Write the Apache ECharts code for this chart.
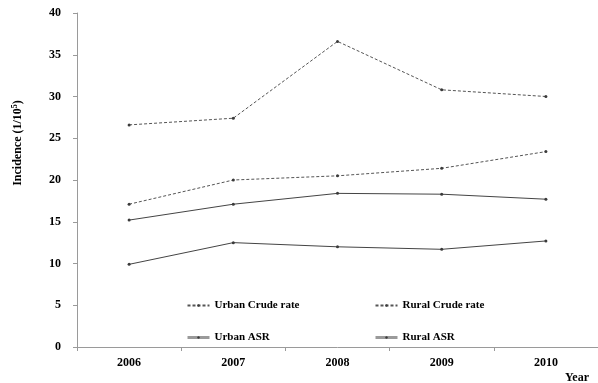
<!DOCTYPE html>
<html>
<head>
<meta charset="utf-8">
<script src="https://cdn.jsdelivr.net/npm/echarts@6/dist/echarts.min.js"></script>
<style>html,body{margin:0;padding:0;background:#fff;}#c{width:598px;height:383px;}</style>
</head>
<body>
<div id="c"></div>
<script>
const years = ['2006', '2007', '2008', '2009', '2010'];
const urbanCrude = [26.6, 27.4, 36.6, 30.8, 30.0];
const ruralCrude = [17.1, 20.0, 20.5, 21.4, 23.4];
const urbanASR = [15.2, 17.1, 18.4, 18.3, 17.7];
const ruralASR = [9.9, 12.5, 12.0, 11.7, 12.7];
const yTicks = { min: 0, max: 40, interval: 5 };

const FONT = '"Liberation Serif", "DejaVu Serif", serif';
const lineColor = '#3a3a3a';

function mk(name, data, dashed) {
  return {
    name: name, type: 'line', data: data,
    symbol: 'circle', symbolSize: 3,
    itemStyle: { color: lineColor },
    lineStyle: { color: dashed ? '#555' : '#444', width: 1, type: dashed ? [3, 2] : 'solid' },
    emphasis: { disabled: true },
    animation: false
  };
}

const chart = echarts.init(document.getElementById('c'));
const legendCommon = {
  orient: 'vertical', itemWidth: 22, itemHeight: 3, itemGap: 21,
  textStyle: { fontFamily: FONT, fontWeight: 'bold', fontSize: 11, color: '#000' },
  selectedMode: false
};
chart.setOption({
  backgroundColor: '#fff',
  animation: false,
  grid: { left: 77, top: 13, right: -4, bottom: 36 },
  legend: [
    Object.assign({}, legendCommon, { left: 181, top: 295,
      data: [ { name: 'Urban Crude rate' },
              { name: 'Urban ASR', lineStyle: { color: '#9a9a9a', width: 3 } } ] }),
    Object.assign({}, legendCommon, { left: 369, top: 295,
      data: [ { name: 'Rural Crude rate' },
              { name: 'Rural ASR', lineStyle: { color: '#9a9a9a', width: 3 } } ] })
  ],
  xAxis: {
    type: 'category', data: years, boundaryGap: true,
    axisLine: { lineStyle: { color: '#9a9a9a', width: 1 } },
    axisTick: { show: true, length: 4, lineStyle: { color: '#9a9a9a' } },
    axisLabel: { fontFamily: FONT, fontWeight: 'bold', fontSize: 12, color: '#000', margin: 10 }
  },
  yAxis: {
    type: 'value', min: yTicks.min, max: yTicks.max, interval: yTicks.interval,
    splitLine: { show: false },
    axisLine: { show: true, lineStyle: { color: '#9a9a9a', width: 1 } },
    axisTick: { show: true, length: 4, lineStyle: { color: '#9a9a9a' } },
    axisLabel: { fontFamily: FONT, fontWeight: 'bold', fontSize: 12, color: '#000', margin: 16 }
  },
  graphic: [
    { type: 'text', x: 18, y: 143, rotation: Math.PI / 2,
      style: { text: '{a|Incidence (1/10}{s|5}{a|)}', align: 'center', verticalAlign: 'middle',
        rich: { a: { fontFamily: FONT, fontWeight: 'bold', fontSize: 12, fill: '#000' },
                s: { fontFamily: FONT, fontWeight: 'bold', fontSize: 8, fill: '#000', verticalAlign: 'top', padding: [0,0,6,0] } } } },
    { type: 'text', x: 565, y: 372,
      style: { text: 'Year', fontFamily: FONT, fontWeight: 'bold', fontSize: 12, fill: '#000' } }
  ],
  series: [
    mk('Urban Crude rate', urbanCrude, true),
    mk('Rural Crude rate', ruralCrude, true),
    mk('Urban ASR', urbanASR, false),
    mk('Rural ASR', ruralASR, false)
  ]
});
</script>
</body>
</html>
